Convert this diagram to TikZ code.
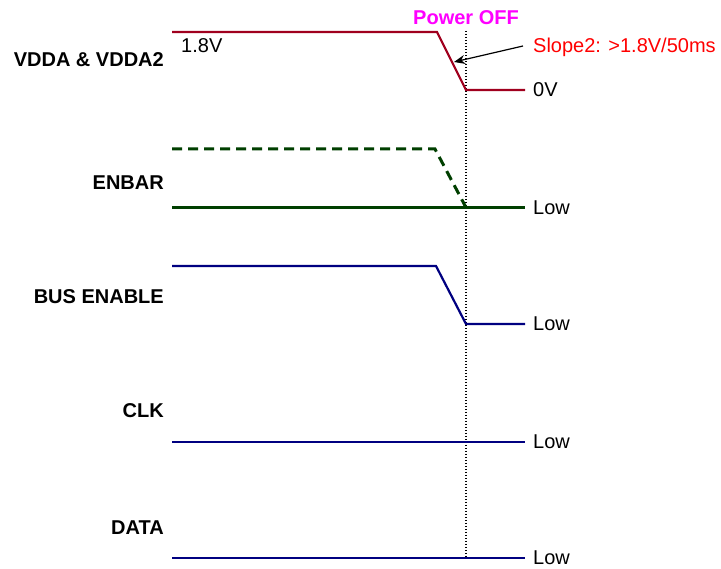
\documentclass[tikz,border=0pt]{standalone}
\usepackage{fontspec}
\setmainfont{Liberation Sans}
\usetikzlibrary{arrows.meta}
\definecolor{vred}{HTML}{A0001E}
\definecolor{egreen}{HTML}{003F00}
\definecolor{bblue}{HTML}{000080}
\definecolor{pmag}{HTML}{FF00FF}
\definecolor{sred}{HTML}{FF0000}
\tikzset{
  sig/.style={line width=2.2pt, line join=miter},
  lbl/.style={anchor=base east, inner sep=0pt, font=\fontsize{20}{24}\selectfont\bfseries},
  val/.style={anchor=base west, inner sep=0pt, font=\fontsize{20}{24}\selectfont},
  marker/.style={line width=1.6pt, dash pattern=on 1.4pt off 1.6pt},
}
\begin{document}
\begin{tikzpicture}[x=1pt, y=-1pt]
\useasboundingbox (0,0) rectangle (721,569);
% coordinates
\coordinate (va) at (172,32);
\coordinate (vb) at (437,32);
\coordinate (vc) at (466,90);
\coordinate (vd) at (525,90);
\coordinate (ea) at (172,149);
\coordinate (eb) at (435,149);
\coordinate (ec) at (466,207.5);
\coordinate (la) at (172,207.5);
\coordinate (lb) at (525,207.5);
\coordinate (ba) at (172,266);
\coordinate (bb) at (436,266);
\coordinate (bc) at (466,324);
\coordinate (bd) at (525,324);
\coordinate (ca) at (172,442);
\coordinate (cb) at (525,442);
\coordinate (da) at (172,558);
\coordinate (db) at (525,558);
\coordinate (mt) at (466,31);
\coordinate (mb) at (466,558);
\coordinate (as) at (523,46);
\coordinate (ae) at (454,62);
% dotted marker
\draw[marker] (mt) -- (mb);
% signals
\draw[sig, vred] (va) -- (vb) -- (vc) -- (vd);
\draw[sig, egreen, line width=3pt, dash pattern=on 10pt off 6pt] (ea) -- (eb) -- (ec);
\draw[sig, egreen] (la) -- (lb);
\draw[sig, bblue] (ba) -- (bb) -- (bc) -- (bd);
\draw[sig, bblue] (ca) -- (cb);
\draw[sig, bblue] (da) -- (db);
% arrow
\draw[line width=1.2pt, -{Stealth[length=11pt, width=9pt]}] (as) -- (ae);
% labels
\node[lbl] (l1) at (164,67) {VDDA \& VDDA2};
\node[lbl] (l2) at (164,190) {ENBAR};
\node[lbl] (l3) at (164,304) {BUS ENABLE};
\node[lbl] (l4) at (164,418) {CLK};
\node[lbl] (l5) at (164,534) {DATA};
\node[val] (t18) at (181,53) {1.8V};
\node[val] (t0) at (533,97) {0V};
\node[val] (tl1) at (533,214.5) {Low};
\node[val] (tl2) at (533,331) {Low};
\node[val] (tl3) at (533,449) {Low};
\node[val] (tl4) at (533,565) {Low};
\node[val, text=sred] (slope) at (533,53) {Slope2: >1.8V/50ms};
\node[anchor=base, inner sep=0pt, font=\fontsize{20}{24}\selectfont\bfseries, text=pmag] (pw) at (466,25) {Power OFF};
\end{tikzpicture}
\end{document}
